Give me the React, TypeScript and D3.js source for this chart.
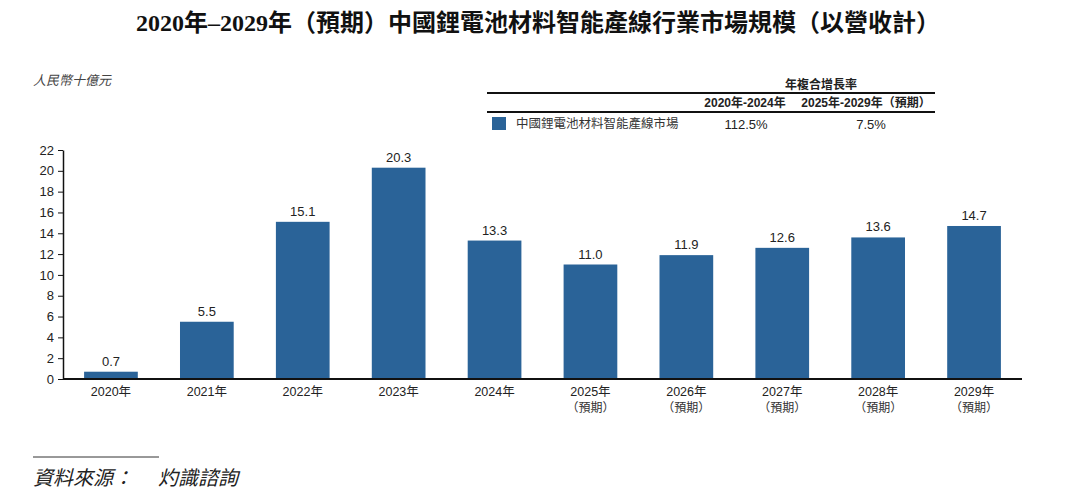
import { useEffect, useRef } from 'react';
import * as d3 from 'd3';

const years = ['2020年', '2021年', '2022年', '2023年', '2024年', '2025年', '2026年', '2027年', '2028年', '2029年'];
const forecast = [false, false, false, false, false, true, true, true, true, true];
const marketSize = [0.7, 5.5, 15.1, 20.3, 13.3, 11.0, 11.9, 12.6, 13.6, 14.7];
const yTicks = [0, 2, 4, 6, 8, 10, 12, 14, 16, 18, 20, 22];
const cagrHeaders = ['2020年-2024年', '2025年-2029年（預期）'];
const cagrValues = ['112.5%', '7.5%'];

const BAR = '#2a6398';
const SANS = 'Arial, "Liberation Sans", "Noto Sans CJK TC", sans-serif';
const SERIF = '"Liberation Serif", "Noto Sans CJK TC", serif';

export default function App() {
    const svgRef = useRef<SVGSVGElement>(null);

    useEffect(() => {
        if (!svgRef.current) return;
        const svg = d3.select(svgRef.current);
        svg.selectAll('*').remove();

        const left = 63, right = 1022, top = 150, bottom = 379;

        const x = d3.scaleBand().domain(years).range([left, right]).paddingInner(0.44).paddingOuter(0.22);
        const y = d3.scaleLinear().domain([0, 22]).range([bottom, top]);

        // Title
        svg.append('text')
            .attr('x', 538).attr('y', 31)
            .attr('text-anchor', 'middle')
            .attr('font-family', SERIF).attr('font-weight', 'bold').attr('font-size', 24)
            .attr('fill', '#111')
            .text('2020年–2029年（預期）中國鋰電池材料智能產線行業市場規模（以營收計）');

        // Unit
        svg.append('text')
            .attr('x', 33).attr('y', 85)
            .attr('font-family', SERIF).attr('font-style', 'italic').attr('font-size', 13)
            .attr('fill', '#444')
            .text('人民幣十億元');

        // CAGR table
        const tbl = svg.append('g');
        tbl.append('text')
            .attr('x', 821).attr('y', 89).attr('text-anchor', 'middle')
            .attr('font-family', SANS).attr('font-weight', 'bold').attr('font-size', 12).attr('fill', '#222')
            .text('年複合增長率');
        tbl.append('line').attr('x1', 487).attr('x2', 935).attr('y1', 93).attr('y2', 93)
            .attr('stroke', '#111').attr('stroke-width', 2);
        const colX = [745, 866];
        cagrHeaders.forEach((h, i) => {
            tbl.append('text')
                .attr('x', colX[i]).attr('y', 107).attr('text-anchor', 'middle')
                .attr('font-family', SANS).attr('font-weight', 'bold').attr('font-size', 12).attr('fill', '#222')
                .text(h);
        });
        tbl.append('line').attr('x1', 487).attr('x2', 935).attr('y1', 112).attr('y2', 112)
            .attr('stroke', '#111').attr('stroke-width', 2);
        tbl.append('rect').attr('x', 492).attr('y', 117).attr('width', 14).attr('height', 13).attr('fill', BAR);
        tbl.append('text')
            .attr('x', 516).attr('y', 128)
            .attr('font-family', SANS).attr('font-size', 12.5).attr('fill', '#333')
            .text('中國鋰電池材料智能產線市場');
        cagrValues.forEach((v, i) => {
            tbl.append('text')
                .attr('x', i === 0 ? 746 : 871).attr('y', 129).attr('text-anchor', 'middle')
                .attr('font-family', SANS).attr('font-size', 13).attr('fill', '#222')
                .text(v);
        });

        // Y axis
        const yAxis = svg.append('g')
            .attr('transform', `translate(${left},0)`)
            .call(d3.axisLeft(y).tickValues(yTicks).tickSize(5).tickSizeOuter(0));
        yAxis.select('.domain').attr('stroke', '#111').attr('stroke-width', 1.5);
        yAxis.selectAll('.tick line').attr('stroke', '#111');
        yAxis.selectAll('.tick text')
            .attr('font-family', SANS).attr('font-size', 13).attr('fill', '#222').attr('x', -9);

        // Bars
        svg.append('g').selectAll('rect')
            .data(marketSize)
            .enter().append('rect')
            .attr('x', (_, i) => x(years[i]) as number)
            .attr('width', x.bandwidth())
            .attr('y', d => y(d))
            .attr('height', d => y(0) - y(d))
            .attr('fill', BAR);

        // Value labels
        svg.append('g').selectAll('text')
            .data(marketSize)
            .enter().append('text')
            .attr('x', (_, i) => (x(years[i]) as number) + x.bandwidth() / 2)
            .attr('y', d => y(d) - 6)
            .attr('text-anchor', 'middle')
            .attr('font-family', SANS).attr('font-size', 13).attr('fill', '#222')
            .text(d => d.toFixed(1));

        // X axis
        svg.append('line')
            .attr('x1', left).attr('x2', right).attr('y1', bottom).attr('y2', bottom)
            .attr('stroke', '#111').attr('stroke-width', 2);

        const xl = svg.append('g');
        years.forEach((yr, i) => {
            const cx = (x(yr) as number) + x.bandwidth() / 2;
            xl.append('text')
                .attr('x', cx).attr('y', 396).attr('text-anchor', 'middle')
                .attr('font-family', SANS).attr('font-size', 12.5).attr('fill', '#222')
                .text(yr);
            if (forecast[i]) {
                xl.append('text')
                    .attr('x', cx).attr('y', 412).attr('text-anchor', 'middle')
                    .attr('font-family', SERIF).attr('font-size', 12).attr('fill', '#333')
                    .text('（預期）');
            }
        });

        // Source
        svg.append('line').attr('x1', 33).attr('x2', 159).attr('y1', 457).attr('y2', 457)
            .attr('stroke', '#333').attr('stroke-width', 1);
        svg.append('text')
            .attr('x', 33).attr('y', 485)
            .attr('font-family', SERIF).attr('font-style', 'italic').attr('font-size', 20)
            .attr('fill', '#222')
            .attr('xml:space', 'preserve')
            .text('資料來源：　 灼識諮詢');
    }, []);

    return (
        <svg
            ref={svgRef}
            width={1080}
            height={500}
            style={{ position: 'fixed', left: 0, top: 0, background: '#fff' }}
        />
    );
}
